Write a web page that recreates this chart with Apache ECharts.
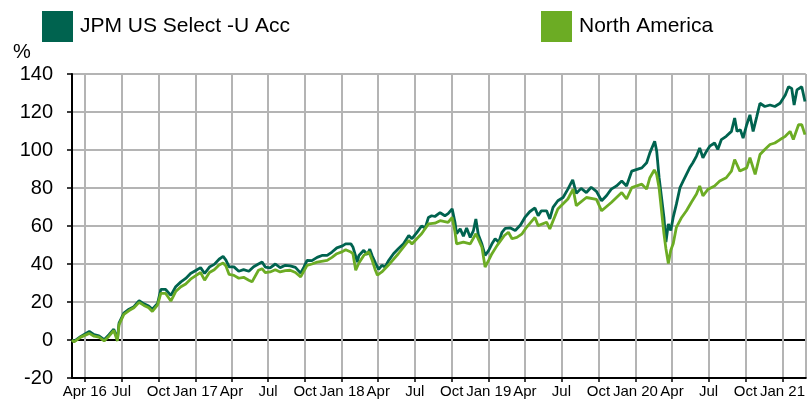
<!DOCTYPE html>
<html>
<head>
<meta charset="utf-8">
<script src="https://cdn.jsdelivr.net/npm/echarts@6/dist/echarts.min.js"></script>
<style>
  html, body { margin: 0; padding: 0; background: #fff; }
  #main { width: 808px; height: 403px; }
</style>
</head>
<body>
<div id="main"></div>
<script>
// cumulative performance, %
var jpmDates = [
  '2016-02-29','2016-03-05','2016-03-22','2016-04-12','2016-04-24','2016-05-06','2016-05-19','2016-05-31','2016-06-12','2016-06-21',
  '2016-06-25','2016-07-07','2016-07-20','2016-08-01','2016-08-14','2016-08-26','2016-09-07','2016-09-16','2016-09-29','2016-10-07',
  '2016-10-19','2016-11-01','2016-11-13','2016-11-26','2016-12-08','2016-12-20','2017-01-03','2017-01-14','2017-01-24','2017-02-05',
  '2017-02-17','2017-03-01','2017-03-11','2017-03-18','2017-03-26','2017-04-07','2017-04-19','2017-05-01','2017-05-14','2017-05-26',
  '2017-06-07','2017-06-16','2017-06-24','2017-07-06','2017-07-19','2017-07-31','2017-08-13','2017-08-25','2017-09-07','2017-09-20',
  '2017-09-28','2017-10-06','2017-10-18','2017-10-31','2017-11-12','2017-11-25','2017-12-07','2017-12-19','2018-01-02','2018-01-10',
  '2018-01-23','2018-01-28','2018-02-04','2018-02-08','2018-02-12','2018-02-16','2018-02-24','2018-03-05','2018-03-11','2018-03-17',
  '2018-03-25','2018-04-02','2018-04-10','2018-04-18','2018-04-26','2018-05-09','2018-05-21','2018-06-03','2018-06-16','2018-06-24',
  '2018-07-06','2018-07-18','2018-07-27','2018-08-04','2018-08-12','2018-08-20','2018-09-02','2018-09-14','2018-09-22','2018-10-02',
  '2018-10-09','2018-10-13','2018-10-22','2018-10-30','2018-11-07','2018-11-16','2018-11-24','2018-11-30','2018-12-06','2018-12-15',
  '2018-12-23','2019-01-01','2019-01-09','2019-01-17','2019-01-26','2019-02-03','2019-02-11','2019-02-24','2019-03-08','2019-03-21',
  '2019-04-01','2019-04-13','2019-04-26','2019-05-04','2019-05-12','2019-05-25','2019-06-02','2019-06-10','2019-06-22','2019-07-05',
  '2019-07-17','2019-07-29','2019-08-07','2019-08-19','2019-09-01','2019-09-13','2019-09-26','2019-10-09','2019-10-21','2019-11-02',
  '2019-11-15','2019-11-28','2019-12-10','2019-12-23','2020-01-05','2020-01-17','2020-01-29','2020-02-06','2020-02-18','2020-02-23',
  '2020-02-29','2020-03-06','2020-03-12','2020-03-17','2020-03-23','2020-03-29','2020-04-04','2020-04-12','2020-04-21','2020-04-29',
  '2020-05-07','2020-05-15','2020-05-23','2020-06-01','2020-06-09','2020-06-17','2020-06-26','2020-07-04','2020-07-16','2020-07-24',
  '2020-08-02','2020-08-14','2020-08-27','2020-09-04','2020-09-10','2020-09-18','2020-09-25','2020-10-04','2020-10-12','2020-10-20',
  '2020-10-29','2020-11-06','2020-11-18','2020-12-01','2020-12-13','2020-12-26','2021-01-08','2021-01-16','2021-01-24','2021-01-30',
  '2021-02-06','2021-02-18','2021-02-26'
];
var jpmValues = [
  0, -0.7, 1.9, 4.5, 2.8, 2.2, 0.2, 2.8, 5.7, 0.5,
  8.9, 14.1, 16.2, 17.5, 20.7, 19, 17.9, 16.2, 19.3, 26.6,
  26.6, 23.5, 28, 30.6, 32.4, 35, 36.7, 38.1, 35, 38.4,
  39.8, 42.5, 44, 42, 38.5, 38.5, 36.2, 37, 36.2, 38.6,
  40, 41, 38.4, 38, 40, 38.1, 39.3, 39, 38.2, 35.2,
  38.4, 41.9, 41.8, 43.5, 44.5, 44.5, 46.3, 48.5, 49.5, 50.6,
  50.6, 49, 44, 41, 44.5, 45.5, 47.2, 45, 47.8, 44.3,
  40.6, 37.2, 39.3, 38.4, 41.5, 45.4, 48, 50.6, 55, 53.3,
  56.5, 60, 59, 64.5, 65.4, 65, 67, 65.4, 66.5, 69,
  62, 56, 58.5, 54.6, 59, 54, 57.6, 63.7, 55.5, 50.5,
  44.5, 47.2, 50.6, 53.3, 51.5, 56.7, 58.8, 59, 57.6, 60.5,
  64.5, 67.5, 69.5, 65.4, 68, 68, 63.7, 69.8, 73.3, 75,
  79.4, 84.3, 77.2, 79.8, 77.6, 80.4, 78.2, 73.3, 75.9, 79.4,
  81.1, 83.7, 81.1, 88.9, 89.8, 90.6, 93.3, 98.5, 104.6, 99.4,
  85.4, 75, 64.5, 51.5, 61.1, 57.6, 64.5, 71.5, 80.2, 83.7,
  87.2, 90.6, 93.3, 96.8, 101.1, 95.9, 99.4, 102, 103.7, 100.3,
  105.5, 107.2, 109.8, 116.8, 109.8, 110.7, 106.3, 113.3, 118.5, 109.8,
  117.6, 124.6, 122.9, 123.7, 122.9, 124.6, 129, 133.3, 132.4, 123.7,
  131.6, 133.3, 125.5
];

var naDates = [
  '2016-02-29','2016-03-05','2016-03-22','2016-04-12','2016-04-24','2016-05-06','2016-05-19','2016-05-31','2016-06-12','2016-06-21',
  '2016-06-25','2016-07-07','2016-07-20','2016-08-01','2016-08-14','2016-08-26','2016-09-07','2016-09-16','2016-09-29','2016-10-07',
  '2016-10-19','2016-11-01','2016-11-13','2016-11-26','2016-12-08','2016-12-20','2017-01-03','2017-01-14','2017-01-24','2017-02-05',
  '2017-02-17','2017-03-01','2017-03-11','2017-03-18','2017-03-26','2017-04-07','2017-04-19','2017-05-01','2017-05-14','2017-05-22',
  '2017-06-07','2017-06-16','2017-06-24','2017-07-06','2017-07-19','2017-07-31','2017-08-13','2017-08-25','2017-09-07','2017-09-20',
  '2017-10-06','2017-10-18','2017-10-31','2017-11-25','2017-12-07','2017-12-19','2018-01-02','2018-01-10','2018-01-23','2018-01-28',
  '2018-02-04','2018-02-12','2018-02-24','2018-03-09','2018-03-17','2018-03-25','2018-03-30','2018-04-10','2018-04-26','2018-05-21',
  '2018-06-16','2018-06-24','2018-07-06','2018-07-18','2018-08-04','2018-08-20','2018-09-02','2018-09-22','2018-10-02','2018-10-09',
  '2018-10-13','2018-10-30','2018-11-16','2018-11-30','2018-12-15','2018-12-23','2019-01-01','2019-01-09','2019-01-22','2019-02-09',
  '2019-02-19','2019-02-28','2019-03-12','2019-03-25','2019-04-05','2019-04-26','2019-05-04','2019-05-25','2019-06-02','2019-06-22',
  '2019-07-17','2019-07-30','2019-08-07','2019-09-01','2019-09-26','2019-10-09','2019-11-02','2019-11-28','2019-12-10','2019-12-23',
  '2020-01-17','2020-01-29','2020-02-06','2020-02-17','2020-02-23','2020-02-29','2020-03-06','2020-03-12','2020-03-17','2020-03-23',
  '2020-03-29','2020-04-04','2020-04-12','2020-04-25','2020-05-07','2020-05-19','2020-06-01','2020-06-09','2020-06-17','2020-06-30',
  '2020-07-16','2020-07-29','2020-08-14','2020-08-27','2020-09-04','2020-09-17','2020-10-04','2020-10-12','2020-10-25','2020-11-06',
  '2020-11-18','2020-12-01','2020-12-13','2020-12-26','2021-01-08','2021-01-20','2021-01-28','2021-02-10','2021-02-18','2021-02-26'
];
var naValues = [
  0, -1, 1.5, 3.5, 2, 1.5, -0.5, 2, 5, -0.5,
  8, 13.5, 15.5, 17, 19.8, 18.2, 17, 15, 18.5, 24.5,
  24.5, 20.5, 25.5, 28, 29.5, 32, 34, 35.5, 31.5, 35.5,
  37, 39.5, 40.5, 39, 34.5, 34, 32.5, 33, 31.5, 30.6,
  36.7, 37.5, 35.5, 35.8, 37, 35.8, 36.5, 36.7, 35.5, 33.2,
  39.3, 40, 41, 41.9, 43.5, 45.4, 46.5, 47.5, 46.3, 45.5,
  36.7, 40.5, 44.5, 46.3, 42, 36.7, 34.1, 35.8, 39.3, 45.4,
  52.4, 50.5, 53.3, 55.9, 61.1, 61.5, 62.8, 61.9, 64.5, 57,
  50.6, 51.5, 50.6, 55.9, 48.9, 38.4, 42, 45.4, 49.8, 55,
  56.7, 53.3, 54, 55.9, 59.3, 64.5, 60.2, 62, 58.5, 68.9,
  74.2, 79.4, 70.7, 75, 74, 68, 72.4, 77.6, 74.2, 80.2,
  82, 79.4, 85.4, 89.5, 87, 80, 68, 56, 48, 40.2,
  47.2, 50.6, 59.3, 64.5, 68, 72.4, 76.8, 81.1, 75.9, 79.4,
  81.1, 83.7, 85.4, 88.9, 95, 88.9, 90.6, 95.9, 87.2, 97.6,
  100.3, 102.9, 103.7, 105.5, 107.2, 109.8, 105.5, 113.3, 113.3, 108.1
];

var yTicks = [-20, 0, 20, 40, 60, 80, 100, 120, 140];
var monthNames = ['Jan', 'Feb', 'Mar', 'Apr', 'May', 'Jun', 'Jul', 'Aug', 'Sep', 'Oct', 'Nov', 'Dec'];

function zip(dates, values) {
  var out = [];
  for (var i = 0; i < dates.length; i++) {
    out.push([dates[i], values[i]]);
  }
  return out;
}

// zero line black, the rest grey
var ySplitColors = yTicks.map(function (v) { return v === 0 ? '#000000' : '#b4b4b4'; });

var legendText = { fontFamily: 'Liberation Sans', fontSize: 21, color: '#000', padding: [0, 0, 12, 2] };

var chart = echarts.init(document.getElementById('main'));
var option = {
  animation: false,
  color: ['#00634f', '#6cac24'],
  title: {
    text: '%',
    left: 8,
    top: 37,
    textStyle: { fontFamily: 'Liberation Sans', fontSize: 20, fontWeight: 'normal', color: '#000' }
  },
  legend: [{
    data: ['JPM US Select -U Acc'],
    left: 37,
    top: 6,
    icon: 'rect',
    itemWidth: 31,
    itemHeight: 31,
    textStyle: legendText
  }, {
    data: ['North America'],
    left: 536,
    top: 6,
    icon: 'rect',
    itemWidth: 31,
    itemHeight: 31,
    textStyle: legendText
  }],
  grid: {
    left: 72,
    right: 1.5,
    top: 74,
    bottom: 25
  },
  xAxis: {
    type: 'time',
    min: '2016-02-29',
    max: '2021-02-28',
    splitNumber: 20,
    axisLine: { onZero: false, lineStyle: { color: '#000', width: 2 } },
    axisTick: { show: true, length: 4, lineStyle: { color: '#000', width: 1.5 } },
    axisLabel: {
      showMinLabel: false,
      showMaxLabel: false,
      margin: 6,
      color: '#000',
      fontFamily: 'Liberation Sans',
      fontSize: 15,
      formatter: function (value) {
        var d = new Date(value);
        var m = d.getMonth();
        var yy = String(d.getFullYear()).slice(2);
        if (m === 0 || (m === 3 && d.getFullYear() === 2016)) {
          return monthNames[m] + ' ' + yy;
        }
        return monthNames[m];
      }
    },
    splitLine: { show: true, lineStyle: { color: '#b4b4b4', width: 2 } }
  },
  yAxis: {
    type: 'value',
    min: -20,
    max: 140,
    interval: 20,
    axisLine: { show: true, lineStyle: { color: '#000', width: 2 } },
    axisTick: { show: true, length: 5, lineStyle: { color: '#000', width: 1.5 } },
    axisLabel: {
      margin: 19,
      color: '#000',
      fontFamily: 'Liberation Sans',
      fontSize: 20
    },
    splitLine: { show: true, lineStyle: { color: ySplitColors, width: 2 } }
  },
  series: [{
    name: 'JPM US Select -U Acc',
    type: 'line',
    showSymbol: false,
    lineStyle: { width: 2.8 },
    data: zip(jpmDates, jpmValues)
  }, {
    name: 'North America',
    type: 'line',
    showSymbol: false,
    lineStyle: { width: 2.8 },
    data: zip(naDates, naValues)
  }]
};
chart.setOption(option);
</script>
</body>
</html>
